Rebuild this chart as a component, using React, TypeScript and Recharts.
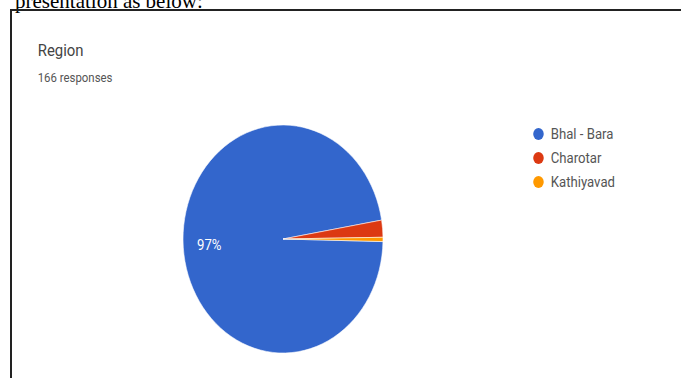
import { PieChart, Pie, Cell, Legend } from 'recharts';

const regions = ['Bhal - Bara', 'Charotar', 'Kathiyavad'];
const responses = [161, 4, 1];
const sliceColors = ['#3366cc', '#dc3912', '#ff9900'];

const data = regions.map((name, i) => ({ name, value: responses[i] }));

// the screenshot is squeezed horizontally, so draw at full width and compress
const SQUEEZE = 0.877;
const RAD = Math.PI / 180;

function renderLabel(props: any) {
  const { cx, cy, midAngle, outerRadius, percent, index } = props;
  if (index !== 0) return null;
  const r = outerRadius * 0.74;
  const x = cx + r * Math.cos(-midAngle * RAD);
  const y = cy + r * Math.sin(-midAngle * RAD);
  return (
    <text x={x} y={y} fill="#fff" fontSize={15} textAnchor="middle" dominantBaseline="central"
      fontFamily="Roboto, sans-serif">
      {`${Math.round(percent * 100)}%`}
    </text>
  );
}

function LegendList({ payload }: any) {
  return (
    <div style={{ fontFamily: 'Roboto, sans-serif' }}>
      {(payload ?? []).map((p: any) => (
        <div key={p.value} style={{ display: 'flex', alignItems: 'center', height: 24 }}>
          <span style={{ width: 12, height: 12, borderRadius: 6, background: p.color, marginRight: 8 }} />
          <span style={{ fontSize: 15, color: '#555' }}>{p.value}</span>
        </div>
      ))}
    </div>
  );
}

export default function App() {
  return (
    <div style={{ position: 'fixed', left: 0, top: 0, width: 681, height: 378, overflow: 'hidden', background: '#fff' }}>
      <div style={{ position: 'absolute', left: 15, top: -11, fontFamily: '"Liberation Serif", serif', fontSize: 21, color: '#000', whiteSpace: 'nowrap' }}>
        presentation as below:
      </div>
      <div style={{ position: 'absolute', left: 10, top: 9, width: 700, height: 400, borderLeft: '2px solid #222', borderTop: '2px solid #222' }} />
      <div style={{ position: 'absolute', left: 0, top: 0, width: 681 / SQUEEZE, height: 378, transform: `scaleX(${SQUEEZE})`, transformOrigin: '0 0' }}>
        <div style={{ position: 'absolute', left: 43, top: 40, fontFamily: 'Roboto, sans-serif', fontSize: 17, color: '#444' }}>Region</div>
        <div style={{ position: 'absolute', left: 43, top: 70, fontFamily: 'Roboto, sans-serif', fontSize: 13, color: '#555' }}>166 responses</div>
        <PieChart width={681 / SQUEEZE} height={378} margin={{ top: 0, right: 0, bottom: 0, left: 0 }}>
          <Pie
            data={data}
            dataKey="value"
            nameKey="name"
            cx={322.7}
            cy={239}
            outerRadius={114}
            startAngle={-1.3}
            endAngle={-361.3}
            stroke="#fff"
            strokeWidth={0.6}
            label={renderLabel}
            labelLine={false}
            isAnimationActive={false}
          >
            {data.map((d, i) => (
              <Cell key={d.name} fill={sliceColors[i]} />
            ))}
          </Pie>
          <Legend
            layout="vertical"
            content={<LegendList />}
            wrapperStyle={{ position: 'absolute', left: 608, top: 122, width: 160 }}
          />
        </PieChart>
      </div>
    </div>
  );
}
